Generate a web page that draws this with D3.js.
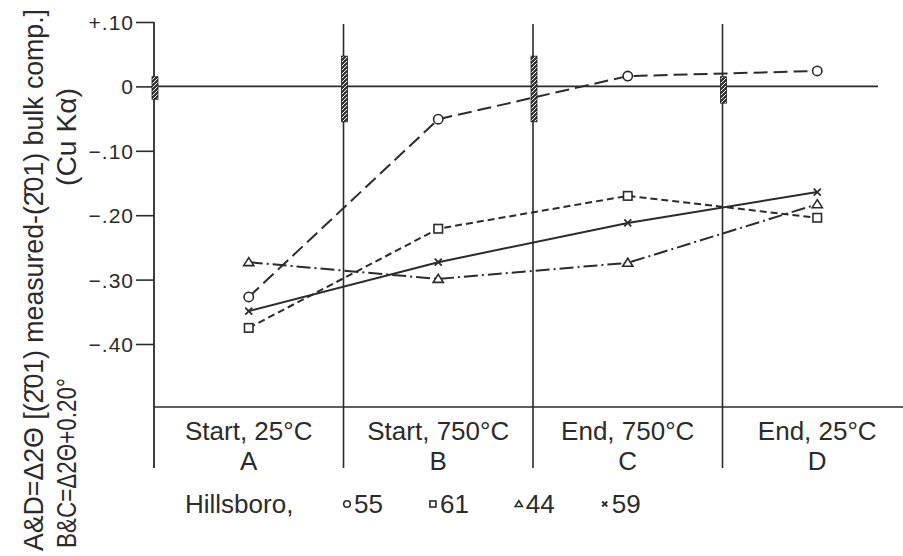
<!DOCTYPE html>
<html>
<head>
<meta charset="utf-8">
<script src="https://cdn.jsdelivr.net/npm/d3@7"></script>
<style>
    body { margin: 0; background: #fff; }
    text { font-family: 'Liberation Sans', Arial, sans-serif; fill: #2b2b2b; }
</style>
</head>
<body>
<div id="chart"></div>
<script>
// categories along the bottom
let categories = ['A', 'B', 'C', 'D']
let conditions = ['Start, 25°C', 'Start, 750°C', 'End, 750°C', 'End, 25°C']

// Hillsboro samples, values
let sampleNames = ['55', '61', '44', '59']
let sample55 = [-0.327, -0.051, 0.016, 0.024]
let sample61 = [-0.375, -0.221, -0.170, -0.204]
let sample44 = [-0.273, -0.299, -0.274, -0.183]
let sample59 = [-0.349, -0.273, -0.212, -0.164]

// hatched uncertainty bars drawn on the boundary of each category
let rangeTop = [0.015, 0.047, 0.047, 0.015]
let rangeBottom = [-0.020, -0.055, -0.055, -0.026]

let yTicks = [0.10, 0, -0.10, -0.20, -0.30, -0.40]

let svgWidth = 903,
    svgHeight = 556,
    tableTop = 407,
    tableBottom = 468,
    ink = '#2b2b2b'

let svg = d3.select('#chart')
    .append('svg')
    .attr('width', svgWidth)
    .attr('height', svgHeight)

let x = d3.scaleBand()
    .domain(categories)
    .range([154, 912])
    .padding(0)

let y = d3.scaleLinear()
    .domain([0.10, -0.40])
    .range([22, 344])

// hatch pattern for the small bars
let defs = svg.append('defs')
let hatch = defs.append('pattern')
    .attr('id', 'hatch')
    .attr('patternUnits', 'userSpaceOnUse')
    .attr('width', 4)
    .attr('height', 4)
hatch.append('rect')
    .attr('width', 4)
    .attr('height', 4)
    .attr('fill', '#333')
hatch.append('path')
    .attr('d', 'M-1,1 l2,-2 M0,4 l4,-4 M3,5 l2,-2')
    .attr('stroke', '#fff')
    .attr('stroke-width', 1)

// zero line
svg.append('line')
    .attr('x1', x('A'))
    .attr('x2', 878)
    .attr('y1', y(0))
    .attr('y2', y(0))
    .attr('stroke', ink)
    .attr('stroke-width', 1.6)

// table line under the plot
svg.append('line')
    .attr('x1', x('A'))
    .attr('x2', svgWidth)
    .attr('y1', tableTop)
    .attr('y2', tableTop)
    .attr('stroke', ink)
    .attr('stroke-width', 1.6)

// vertical dividers at each category boundary
svg.selectAll('.divider')
    .data(categories.slice(1))
    .enter().append('line')
    .attr('class', 'divider')
    .attr('x1', d => x(d))
    .attr('x2', d => x(d))
    .attr('y1', 24)
    .attr('y2', tableBottom)
    .attr('stroke', ink)
    .attr('stroke-width', 1.6)

// y axis
let yAxis = svg.append('g')
    .attr('transform', `translate(${x('A')},0)`)
    .call(d3.axisLeft(y)
        .tickValues(yTicks)
        .tickSize(18)
        .tickPadding(2)
        .tickFormat(d => {
            if (d === 0) return '0'
            let s = d3.format('.2f')(Math.abs(d)).replace(/^0/, '')
            return (d > 0 ? '+' : '\u2212') + s
        }))
yAxis.select('.domain').remove()
yAxis.selectAll('.tick line')
    .attr('stroke', ink)
    .attr('stroke-width', 1.6)
yAxis.selectAll('.tick text')
    .attr('font-size', 21)
    .attr('letter-spacing', 1)
    .attr('dy', '0.36em')
    .style('font-family', "'Liberation Sans', Arial, sans-serif")
    .attr('fill', ink)

yAxis.append('line')
    .attr('y1', y(0.10))
    .attr('y2', tableBottom)
    .attr('stroke', ink)
    .attr('stroke-width', 1.8)

// hatched bars
svg.selectAll('.range')
    .data(categories)
    .enter().append('rect')
    .attr('class', 'range')
    .attr('x', d => x(d) - 2)
    .attr('width', 6)
    .attr('y', (d, i) => y(rangeTop[i]))
    .attr('height', (d, i) => y(rangeBottom[i]) - y(rangeTop[i]))
    .attr('fill', 'url(#hatch)')
    .attr('stroke', '#222')
    .attr('stroke-width', 0.8)

// series lines
let series = [
    { name: sampleNames[0], values: sample55, marker: 'circle', dash: '14,6' },
    { name: sampleNames[1], values: sample61, marker: 'square', dash: '7,4' },
    { name: sampleNames[2], values: sample44, marker: 'triangle', dash: '14,4,2,4' },
    { name: sampleNames[3], values: sample59, marker: 'cross', dash: null }
]

let cx = c => x(c) + x.bandwidth() / 2

let line = d3.line()
    .x((d, i) => cx(categories[i]))
    .y(d => y(d))

svg.selectAll('.series')
    .data(series)
    .enter().append('path')
    .attr('class', 'series')
    .attr('d', d => line(d.values))
    .attr('fill', 'none')
    .attr('stroke', ink)
    .attr('stroke-width', 2)
    .attr('stroke-dasharray', d => d.dash)

// draws one marker into a group
function drawMarker(g, type, size) {
    if (type === 'circle') {
        g.append('circle').attr('r', size * 0.55)
            .attr('fill', '#fff').attr('stroke', ink).attr('stroke-width', 1.6)
    } else if (type === 'square') {
        g.append('rect').attr('x', -size / 2).attr('y', -size / 2)
            .attr('width', size).attr('height', size)
            .attr('fill', '#fff').attr('stroke', ink).attr('stroke-width', 1.6)
    } else if (type === 'triangle') {
        let h = size * 0.9
        g.append('path').attr('d', `M0,${-h * 0.6} L${size * 0.6},${h * 0.45} L${-size * 0.6},${h * 0.45} Z`)
            .attr('fill', '#fff').attr('stroke', ink).attr('stroke-width', 1.6)
    } else {
        let s = size / 2
        g.append('path').attr('d', `M${-s},${-s} L${s},${s} M${s},${-s} L${-s},${s}`)
            .attr('stroke', ink).attr('stroke-width', 1.8)
    }
}

series.forEach(s => {
    s.values.forEach((v, i) => {
        let g = svg.append('g')
            .attr('transform', `translate(${cx(categories[i])},${y(v)})`)
        drawMarker(g, s.marker, s.marker === 'cross' ? 7 : 8.5)
    })
})

// category table text
svg.selectAll('.cond')
    .data(categories)
    .enter().append('text')
    .attr('class', 'cond')
    .attr('x', d => cx(d))
    .attr('y', 440)
    .attr('text-anchor', 'middle')
    .attr('font-size', 26)
    .text((d, i) => conditions[i])

svg.selectAll('.cat')
    .data(categories)
    .enter().append('text')
    .attr('class', 'cat')
    .attr('x', d => cx(d))
    .attr('y', 470)
    .attr('text-anchor', 'middle')
    .attr('font-size', 26)
    .text(d => d)

// legend
let legend = svg.append('g')
    .attr('class', 'legend')
    .attr('font-size', 26)

legend.append('text')
    .attr('x', 185)
    .attr('y', 513)
    .text('Hillsboro,')

let lx = 347
series.forEach(s => {
    let g = legend.append('g')
        .attr('transform', `translate(${lx},504)`)
    drawMarker(g, s.marker, s.marker === 'cross' ? 5 : 6)
    let t = legend.append('text')
        .attr('x', lx + 7)
        .attr('y', 513)
        .text(s.name)
    lx += 7 + t.node().getComputedTextLength() + 50
})

// rotated y label, two lines
let yLabel = svg.append('g')
    .attr('font-size', 27)

yLabel.append('text')
    .attr('transform', 'translate(43,551) rotate(-90)')
    .attr('textLength', 542)
    .attr('lengthAdjust', 'spacingAndGlyphs')
    .text('A&D=\u03942\u0398 [(2\u030401) measured-(2\u030401) bulk comp.]')

yLabel.append('text')
    .attr('transform', 'translate(76,548) rotate(-90)')
    .attr('textLength', 170)
    .attr('lengthAdjust', 'spacingAndGlyphs')
    .text('B&C=\u03942\u0398+0.20°')

yLabel.append('text')
    .attr('transform', 'translate(76,186) rotate(-90)')
    .attr('textLength', 98)
    .attr('lengthAdjust', 'spacingAndGlyphs')
    .text('(Cu K\u03b1)')
</script>
</body>
</html>
